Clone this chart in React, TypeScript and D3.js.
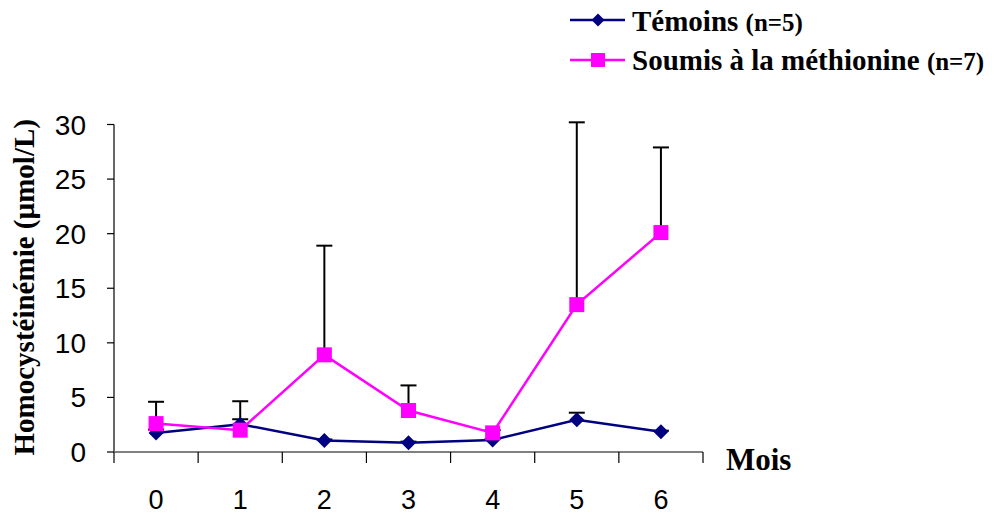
import React from "react";
import * as d3 from "d3";

const months = [0, 1, 2, 3, 4, 5, 6];
const temoins = [1.75, 2.55, 1.05, 0.85, 1.1, 2.95, 1.85];
const temoinsErr = [0.3, 0.45, 0.1, 0.1, 0.1, 0.65, 0.1];
const methio = [2.6, 2.0, 8.9, 3.8, 1.75, 13.5, 20.1];
const methioErr = [2.0, 2.65, 10.0, 2.3, 0.25, 16.7, 7.8];
const yTicks = [0, 5, 10, 15, 20, 25, 30];

const W = 995, H = 514;
const x0 = 114, x1 = 703;
const yTop = 124.5, yBot = 452;

export default function App() {
  const xb = d3.scaleBand<number>().domain(months).range([x0, x1]);
  const xc = (m: number) => (xb(m) as number) + xb.bandwidth() / 2;
  const y = d3.scaleLinear().domain([0, 30]).range([yBot, yTop]);
  const line = d3.line<number>().x((_, i) => xc(months[i])).y((v) => y(v));
  const navy = "#000080";
  const mag = "#FF00FF";
  const diamond = (cx: number, cy: number, r = 7.5) =>
    `M${cx},${cy - r}L${cx + r},${cy}L${cx},${cy + r}L${cx - r},${cy}Z`;
  const errBar = (v: number, e: number, i: number, key: string) => {
    const cx = xc(months[i]);
    return (
      <g key={key} stroke="#000" strokeWidth={2}>
        <line x1={cx} x2={cx} y1={y(v)} y2={y(v + e)} />
        <line x1={cx - 8} x2={cx + 8} y1={y(v + e)} y2={y(v + e)} />
      </g>
    );
  };
  const sans = "Arial, 'Liberation Sans', sans-serif";
  const serif = "'Liberation Serif', 'Times New Roman', serif";
  return (
    <svg width={W} height={H} style={{ position: "absolute", left: 0, top: 0, background: "#fff" }}>
      {temoins.map((v, i) => errBar(v, temoinsErr[i], i, "te" + i))}
      {methio.map((v, i) => errBar(v, methioErr[i], i, "me" + i))}
      <line x1={x0} x2={x0} y1={yTop} y2={yBot} stroke="#000" strokeWidth={1.2} />
      {yTicks.map((t) => (
        <g key={t}>
          <line x1={x0 - 7} x2={x0} y1={y(t)} y2={y(t)} stroke="#000" strokeWidth={1.2} />
          <text x={86} y={y(t) + 10} textAnchor="end" fontFamily={sans} fontSize={28}>{t}</text>
        </g>
      ))}
      <line x1={x0} x2={x1} y1={yBot} y2={yBot} stroke="#808080" strokeWidth={2} />
      {[...months, 7].map((m, i) => {
        const xx = x0 + i * xb.bandwidth();
        return <line key={"xt" + i} x1={xx} x2={xx} y1={yBot} y2={yBot + 11} stroke="#000" strokeWidth={1.2} />;
      })}
      {months.map((m) => (
        <text key={"xl" + m} x={xc(m)} y={509} textAnchor="middle" fontFamily={sans} fontSize={27}>{m}</text>
      ))}
      <path d={line(temoins) as string} fill="none" stroke={navy} strokeWidth={2.5} />
      <path d={line(methio) as string} fill="none" stroke={mag} strokeWidth={2.5} />
      {temoins.map((v, i) => (
        <path key={"d" + i} d={diamond(xc(months[i]), y(v))} fill={navy} />
      ))}
      {methio.map((v, i) => (
        <rect key={"s" + i} x={xc(months[i]) - 7.5} y={y(v) - 7.5} width={15} height={15} fill={mag} />
      ))}
      <text transform={`translate(34,${(yTop + yBot) / 2 - 1}) rotate(-90)`} textAnchor="middle" fontFamily={serif} fontWeight="bold" fontSize={29}>Homocystéinémie (µmol/L)</text>
      <text x={726} y={470} fontFamily={serif} fontWeight="bold" fontSize={31}>Mois</text>
      <g fontFamily={serif} fontWeight="bold">
        <line x1={570} x2={625} y1={20} y2={20} stroke={navy} strokeWidth={2.5} />
        <path d={diamond(598, 20, 6.5)} fill={navy} />
        <text x={632} y={31} fontSize={29}>Témoins <tspan fontSize={25}>(n=5)</tspan></text>
        <line x1={570} x2={625} y1={60} y2={60} stroke={mag} strokeWidth={2.5} />
        <rect x={591} y={53} width={14} height={14} fill={mag} />
        <text x={632} y={70} fontSize={29}>Soumis à la méthionine <tspan fontSize={25}>(n=7)</tspan></text>
      </g>
    </svg>
  );
}
